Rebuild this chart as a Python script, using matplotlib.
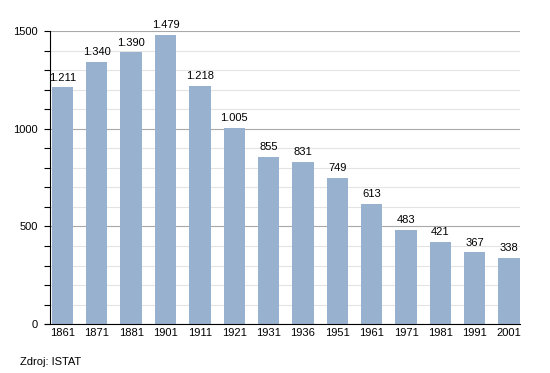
import matplotlib.pyplot as plt
from matplotlib.ticker import MultipleLocator

plt.rcParams['font.family'] = ['Liberation Sans', 'DejaVu Sans']

years = ['1861', '1871', '1881', '1901', '1911', '1921', '1931',
         '1936', '1951', '1961', '1971', '1981', '1991', '2001']
population = [1211, 1340, 1390, 1479, 1218, 1005, 855,
              831, 749, 613, 483, 421, 367, 338]

fig = plt.figure(figsize=(5.5, 3.73), dpi=100)
ax = fig.add_axes([0.091, 0.131, 0.854, 0.786])

x = range(len(years))
ax.bar(x, population, width=0.62, color='#97b1cf', zorder=3)

for i, v in enumerate(population):
    label = '{:,}'.format(v).replace(',', '.')
    ax.text(i, v + 25, label, ha='center', va='bottom', fontsize=8, zorder=4)

ax.set_xlim(-0.36, len(years) - 0.69)
ax.set_ylim(0, 1500)
ax.set_xticks(list(x))
ax.set_xticklabels(years, fontsize=8)
ax.yaxis.set_major_locator(MultipleLocator(500))
ax.yaxis.set_minor_locator(MultipleLocator(100))
ax.tick_params(axis='y', labelsize=8, length=4, width=0.8, pad=5)
ax.tick_params(axis='y', which='minor', length=4, width=0.8)
ax.tick_params(axis='x', length=0, pad=3)

ax.grid(axis='y', which='major', color='#a8a8a8', lw=0.8, zorder=1)
ax.grid(axis='y', which='minor', color='#e4e4e4', lw=0.8, zorder=0)

ax.spines['top'].set_visible(False)
ax.spines['right'].set_visible(False)
ax.spines['left'].set_color('black')
ax.spines['bottom'].set_color('black')
ax.spines['bottom'].set_zorder(5)
# bottom line runs a little past the left spine, like the zero tick
ax.spines['bottom'].set_bounds(-0.36 - 5 / 34.5, len(years) - 0.69)
ax.spines['bottom'].set_clip_on(False)

fig.text(20 / 550, 1 - 362 / 373, 'Zdroj: ISTAT', fontsize=8, va='center')

fig.savefig('out.png', dpi=100)
